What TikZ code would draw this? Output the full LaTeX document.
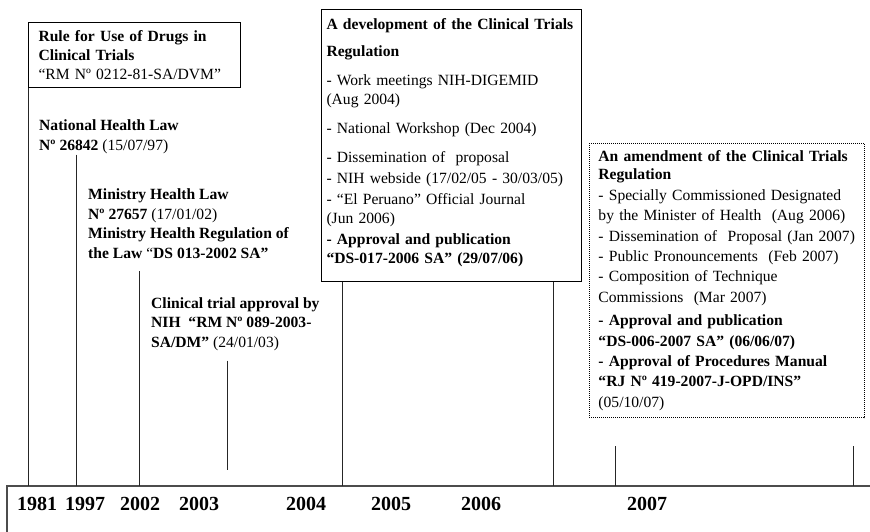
\documentclass[tikz,border=0pt]{standalone}
\usepackage{fontspec}
\setmainfont{Liberation Serif}
\begin{document}
\begin{tikzpicture}[x=1pt, y=-1pt, font=\fontsize{15.6}{19.5}\selectfont,
        evbox/.style={draw, line width=1pt, anchor=north west, align=left,
                      font=\fontsize{15.6}{19}\selectfont},
        dotbox/.style={densely dotted, line width=0.9pt},
        evtext/.style={anchor=base west, align=left, inner sep=1pt},
        year/.style={anchor=base, font=\fontsize{20}{22}\selectfont\bfseries},
        tick/.style={line width=1pt, black!85},
        axis/.style={line width=1.6pt, black!70}
    ]
        \useasboundingbox (0,0) rectangle (870,532);

        % time axis
        \coordinate (axL) at (7,486);
        \coordinate (axR) at (870,486);
        \coordinate (axB) at (7,532);
        \draw[axis] (axR) -- (axL) -- (axB);
        \foreach \yr/\x in {1981/37,1997/85,2002/140,2003/199,2004/306,2005/391,2006/481,2007/647}
            \node[year] (y\yr) at (\x,510) {\yr};

        % events (evtext sits on its last baseline)
        \node[evbox, text width=192pt, inner xsep=10pt, inner ysep=8pt] (rule) at (28,22)
            {\textbf{Rule for Use of Drugs in}\\\textbf{Clinical Trials}\\“RM Nº 0212-81-SA/DVM”};
        \node[evtext] (nhl) at (38,150) {\textbf{National Health Law}\\\textbf{Nº 26842} (15/07/97)};
        \node[evtext] (mhl) at (87,219) {\textbf{Ministry Health Law}\\\textbf{Nº 27657} (17/01/02)};
        \node[evtext] (mhr) at (87,258) {\textbf{Ministry Health Regulation of}\\\textbf{the Law} “\textbf{DS 013-2002 SA”}};
        \node[evtext] (nih) at (150,347)
            {\textbf{Clinical trial approval by}\\\textbf{NIH~ “RM Nº 089-2003-}\\\textbf{SA/DM”} (24/01/03)};

        \node[evbox, text width=250pt, inner xsep=5pt, inner ysep=9pt] (dev) at (321,9) {%
            \textbf{A development of the Clinical Trials}\\[8pt]
            \textbf{Regulation}\\[10pt]
            - Work meetings NIH-DIGEMID\\
            (Aug 2004)\\[10pt]
            - National Workshop (Dec 2004)\\[10pt]
            - Dissemination of~ proposal\\[2pt]
            - NIH webside (17/02/05 - 30/03/05)\\[2pt]
            - “El Peruano” Official Journal\\
            (Jun 2006)\\[2pt]
            \textbf{- Approval and publication}\\
            \textbf{“DS-017-2006 SA” (29/07/06)}\rule[-9pt]{0pt}{9pt}};

        \node[evbox, dotbox, text width=257pt, inner xsep=9pt, inner ysep=7pt,
              font=\fontsize{15.6}{20.4}\selectfont] (amd) at (589,143) {%
            \textbf{An amendment of the Clinical Trials}\\[-2pt]
            \textbf{Regulation}\\
            - Specially Commissioned Designated\\
            by the Minister of Health~ (Aug 2006)\\
            - Dissemination of~ Proposal (Jan 2007)\\
            - Public Pronouncements~ (Feb 2007)\\
            - Composition of Technique\\
            Commissions~ (Mar 2007)\\[3pt]
            \textbf{- Approval and publication}\\
            \textbf{“DS-006-2007 SA” (06/06/07)}\\
            \textbf{- Approval of Procedures Manual}\\
            \textbf{“RJ Nº 419-2007-J-OPD/INS”}\\
            (05/10/07)};

        % ticks down to the axis
        \coordinate (t1997) at (76,486);
        \coordinate (t2002) at (139,486);
        \coordinate (t2003) at (227,470);
        \coordinate (t2004) at (342,486);
        \coordinate (t2006) at (553,486);
        \coordinate (t2007a) at (615,486);
        \coordinate (t2007b) at (853,486);
        \draw[tick] (rule.south west) -- (rule.south west |- axL);
        \draw[tick] (nhl.south -| t1997) -- (t1997);
        \draw[tick] ([yshift=-12pt]mhr.south -| t2002) -- (t2002);
        \draw[tick] ([yshift=-9pt]nih.south -| t2003) -- (t2003);
        \draw[tick] (dev.south -| t2004) -- (t2004);
        \draw[tick] (dev.south -| t2006) -- (t2006);
        \foreach \t in {t2007a,t2007b}
            \draw[tick] ([yshift=-28pt]amd.south -| \t) -- (\t);
    \end{tikzpicture}
\end{document}
